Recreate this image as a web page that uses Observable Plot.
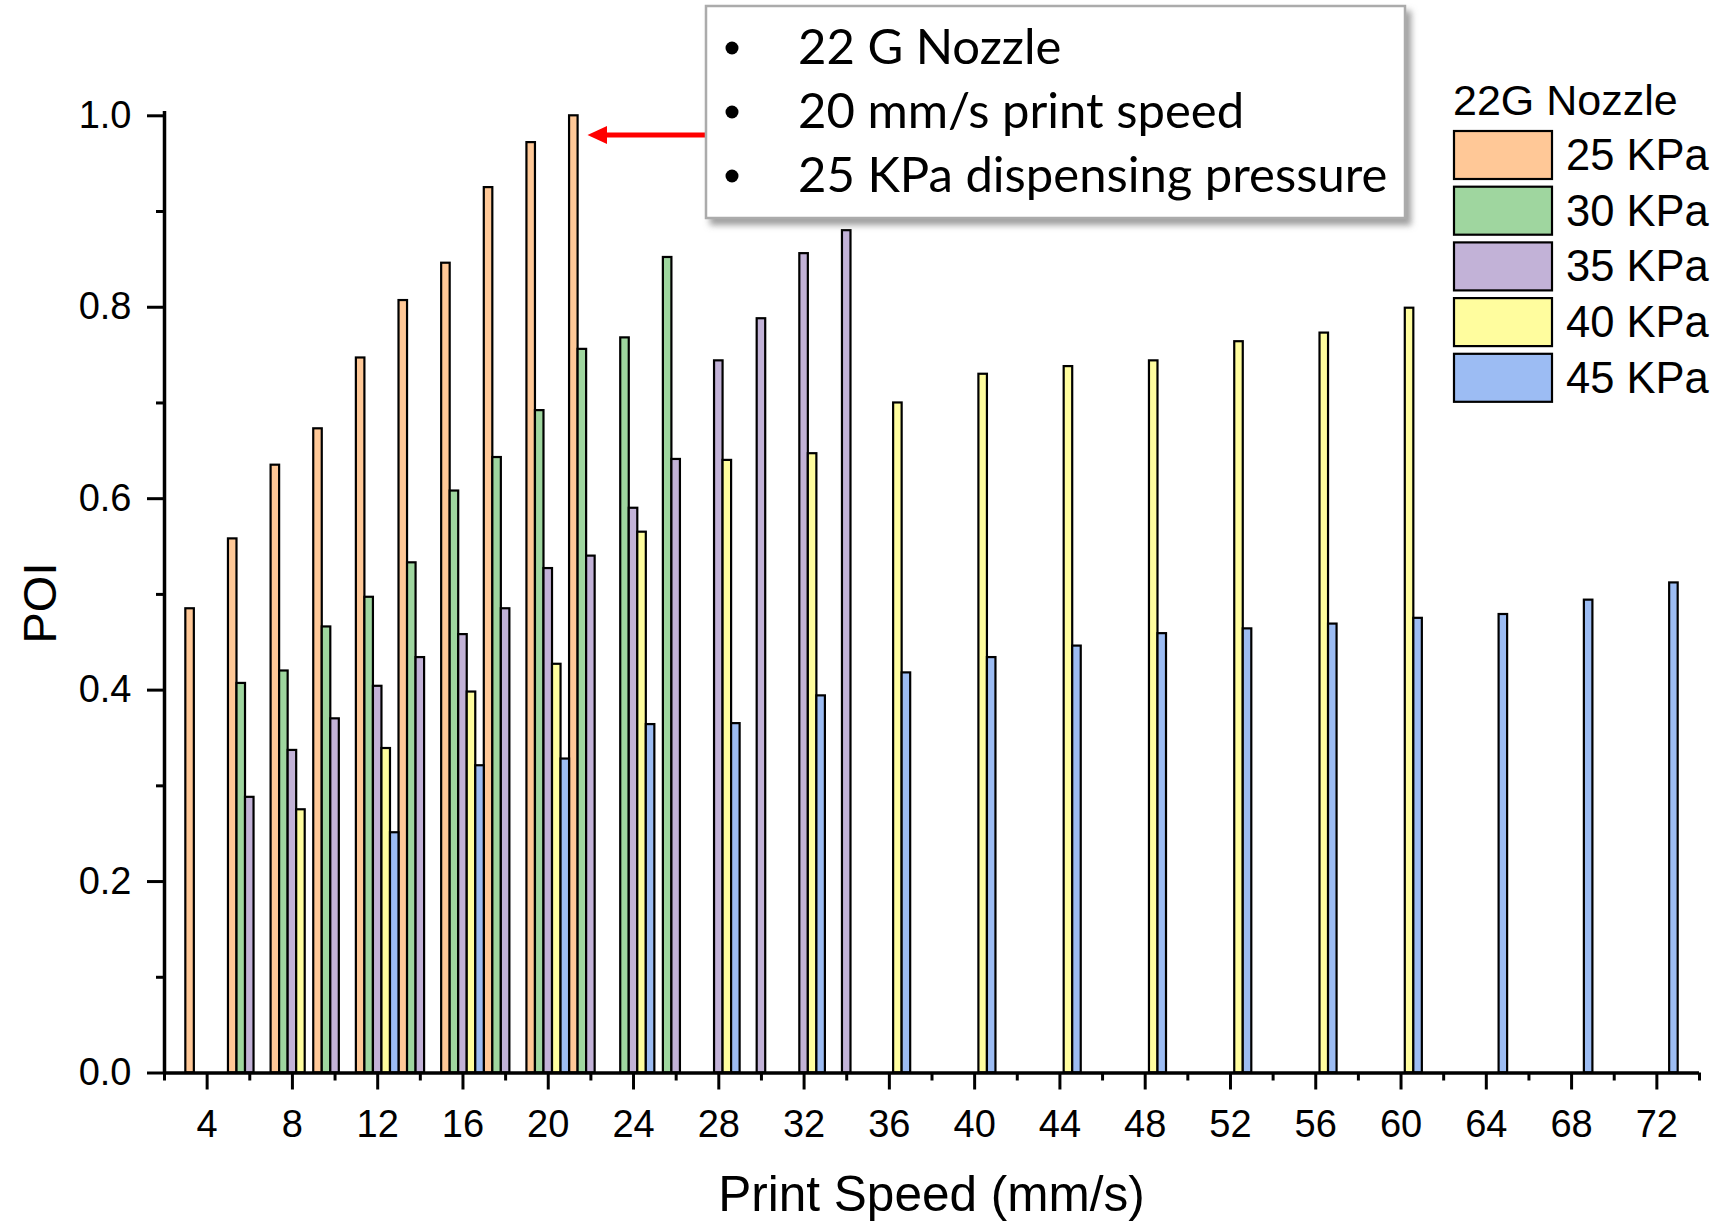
<!DOCTYPE html>
<html><head><meta charset="utf-8">
<script src="https://cdn.jsdelivr.net/npm/d3@7"></script>
<script src="https://cdn.jsdelivr.net/npm/@observablehq/plot@0.6"></script>
<style>
html,body{margin:0;padding:0;background:#fff;}
#chart{position:relative;width:1721px;height:1222px;}
</style></head><body><div id="chart"></div>
<script>
// ---- data ----
const pressures = ["25 KPa", "30 KPa", "35 KPa", "40 KPa", "45 KPa"];
const colors = ["#FFC897", "#9FD69F", "#C2B2D7", "#FFFD9E", "#9CBCF3"];
const speeds25 = [4, 6, 8, 10, 12, 14, 16, 18, 20, 22];
const poi25 = [0.485, 0.558, 0.635, 0.673, 0.747, 0.807, 0.846, 0.925, 0.972, 1.000];
const speeds30 = [6, 8, 10, 12, 14, 16, 18, 20, 22, 24, 26];
const poi30 = [0.407, 0.420, 0.466, 0.497, 0.533, 0.608, 0.643, 0.692, 0.756, 0.768, 0.852];
const speeds35 = [6, 8, 10, 12, 14, 16, 18, 20, 22, 24, 26, 28, 30, 32, 34];
const poi35 = [0.288, 0.337, 0.370, 0.404, 0.434, 0.458, 0.485, 0.527, 0.540, 0.590, 0.641, 0.744, 0.788, 0.856, 0.880];
const speeds40 = [8, 12, 16, 20, 24, 28, 32, 36, 40, 44, 48, 52, 56, 60];
const poi40 = [0.275, 0.339, 0.398, 0.427, 0.565, 0.640, 0.647, 0.700, 0.730, 0.738, 0.744, 0.764, 0.773, 0.799];
const speeds45 = [12, 16, 20, 24, 28, 32, 36, 40, 44, 48, 52, 56, 60, 64, 68, 72];
const poi45 = [0.251, 0.321, 0.328, 0.364, 0.365, 0.394, 0.418, 0.434, 0.446, 0.459, 0.464, 0.469, 0.475, 0.479, 0.494, 0.512];
const xTicksMajor = [4, 8, 12, 16, 20, 24, 28, 32, 36, 40, 44, 48, 52, 56, 60, 64, 68, 72];
const xTicksMinor = [2, 6, 10, 14, 18, 22, 26, 30, 34, 38, 42, 46, 50, 54, 58, 62, 66, 70, 74];
const yTicksMajor = [0, 0.2, 0.4, 0.6, 0.8, 1.0];
const yTicksMinor = [0.1, 0.3, 0.5, 0.7, 0.9];
const xTitle = "Print Speed (mm/s)";
const yTitle = "POI";
const legendTitle = "22G Nozzle";
const notes = ["22 G Nozzle", "20 mm/s print speed", "25 KPa dispensing pressure"];

const series = [[speeds25, poi25], [speeds30, poi30], [speeds35, poi35], [speeds40, poi40], [speeds45, poi45]];
const data = series.flatMap(([s, v], i) => s.map((sp, j) => ({pressure: pressures[i], idx: i, speed: sp, poi: v[j]})));

const W = 1721, H = 1222;
const groupWidth = 2, slot = groupWidth / pressures.length;
const font = "'Liberation Sans', Arial, sans-serif";

const plot = Plot.plot({
  width: W, height: H,
  marginLeft: 164, marginRight: 22, marginTop: 111, marginBottom: 149.5,
  x: {domain: [2, 74], axis: null},
  y: {domain: [0, 1.0045], axis: null},
  color: {domain: pressures, range: colors},
  style: {fontFamily: font, background: "#fff", overflow: "visible", color: "#000"},
  marks: [
    Plot.rect(data, {
      x1: d => d.speed - groupWidth / 2 + d.idx * slot,
      x2: d => d.speed - groupWidth / 2 + (d.idx + 1) * slot,
      y1: 0, y2: "poi", fill: "pressure", stroke: "#000", strokeWidth: 2.2
    }),
    Plot.axisY({ticks: yTicksMajor, tickSize: 17, tickPadding: 16, tickFormat: d3.format(".1f"), fontSize: 38, strokeWidth: 3, label: null}),
    Plot.axisY({ticks: yTicksMinor, tickSize: 8, tickFormat: () => "", strokeWidth: 3, label: null}),
    Plot.axisX({ticks: xTicksMajor, tickSize: 17, tickPadding: 20, fontSize: 38, strokeWidth: 3, label: null}),
    Plot.axisX({ticks: xTicksMinor, tickSize: 8, tickFormat: () => "", strokeWidth: 3, label: null}),
    Plot.ruleX([2], {strokeWidth: 3.5}),
    Plot.ruleY([0], {strokeWidth: 3.5})
  ]
});
document.getElementById("chart").appendChild(plot);

const svg = d3.select(plot);
// shadow filter
const defs = svg.append("defs");
const f = defs.append("filter").attr("id", "shadow").attr("x", "-10%").attr("y", "-10%").attr("width", "130%").attr("height", "140%");
f.append("feDropShadow").attr("dx", 5).attr("dy", 6).attr("stdDeviation", 3).attr("flood-color", "#777").attr("flood-opacity", 0.7);

// axis titles
svg.append("text").attr("x", 931.5).attr("y", 1211).attr("text-anchor", "middle")
  .attr("font-family", font).attr("font-size", 49.5).attr("fill", "#000").text(xTitle);
svg.append("text").attr("transform", "translate(56,603) rotate(-90)").attr("text-anchor", "middle")
  .attr("font-family", font).attr("font-size", 47).attr("fill", "#000").text(yTitle);

// red arrow
svg.append("line").attr("x1", 708).attr("y1", 135).attr("x2", 603).attr("y2", 135)
  .attr("stroke", "#FF0000").attr("stroke-width", 5);
svg.append("path").attr("d", "M587.5,135 L607,126 L607,144 Z").attr("fill", "#FF0000");

// annotation box
const g = svg.append("g").attr("text-anchor", "start");
g.append("rect").attr("x", 706).attr("y", 6).attr("width", 699).attr("height", 212)
  .attr("fill", "#fff").attr("stroke", "#ABABAB").attr("stroke-width", 2.5).attr("filter", "url(#shadow)");
notes.forEach((t, i) => {
  const base = 64 + i * 64;
  g.append("circle").attr("cx", 732).attr("cy", base - 16).attr("r", 6.5).attr("fill", "#000");
  g.append("text").attr("x", 798).attr("y", base).attr("text-anchor", "start")
    .attr("font-family", "Lato, 'Open Sans', sans-serif")
    .attr("font-size", 49).attr("fill", "#000").text(t);
});

// legend
const lg = svg.append("g").attr("text-anchor", "start");
lg.append("text").attr("x", 1453).attr("y", 115).attr("text-anchor", "start")
  .attr("font-family", font).attr("font-size", 43).attr("fill", "#000").text(legendTitle);
pressures.forEach((p, i) => {
  const top = 131 + i * 55.7;
  lg.append("rect").attr("x", 1454).attr("y", top).attr("width", 98).attr("height", 48)
    .attr("fill", colors[i]).attr("stroke", "#000").attr("stroke-width", 2.2);
  lg.append("text").attr("x", 1566).attr("y", top + 39).attr("text-anchor", "start")
    .attr("font-family", font).attr("font-size", 43.5).attr("fill", "#000").text(p);
});
</script></body></html>
